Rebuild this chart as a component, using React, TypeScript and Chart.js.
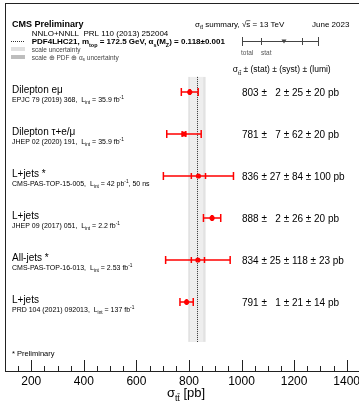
import React, { useEffect, useRef } from "react";
import { Chart, registerables } from "chart.js";

Chart.register(...registerables);

const FONT = "'Liberation Sans', Arial, Helvetica, sans-serif";

// ---------- data ----------
const measurementNames = [
  "Dilepton eμ",
  "Dilepton τ+e/μ",
  "L+jets *",
  "L+jets",
  "All-jets *",
  "L+jets",
];
const measurementRefs = [
  "EPJC 79 (2019) 368,  L_{int} = 35.9 fb^{-1}",
  "JHEP 02 (2020) 191,  L_{int} = 35.9 fb^{-1}",
  "CMS-PAS-TOP-15-005,  L_{int} = 42 pb^{-1}, 50 ns",
  "JHEP 09 (2017) 051,  L_{int} = 2.2 fb^{-1}",
  "CMS-PAS-TOP-16-013,  L_{int} = 2.53 fb^{-1}",
  "PRD 104 (2021) 092013,  L_{int} = 137 fb^{-1}",
];
const rowIndex = [0, 1, 2, 3, 4, 5];
const xsec = [803, 781, 836, 888, 834, 791];
const statErr = [2, 7, 27, 2, 25, 1];
const systErr = [25, 62, 84, 26, 118, 21];
const lumiErr = [20, 20, 100, 20, 23, 14];

const theoryValue = 833.9;
const theoryScaleUp = 20.5;
const theoryScaleDown = 30.0;
const theoryPdfAlphaS = 21.0;
const bandRows = [-0.36, 5.95];

const xTickValues = [200, 400, 600, 800, 1000, 1200, 1400];
const xMinorStep = 50;
const xRange = [100, 1447];
const yRange = [-2.12, 6.667];

// ---------- rich text helpers ----------
type Seg = { t: string; m: number; bar: boolean };
function parseRich(src: string): Seg[] {
  const out: Seg[] = [];
  const walk = (s: string, m: number) => {
    let buf = "";
    const flush = () => {
      if (buf) {
        out.push({ t: buf, m, bar: false });
        buf = "";
      }
    };
    for (let i = 0; i < s.length; i++) {
      const c = s[i];
      if ((c === "_" || c === "^") && s[i + 1] === "{") {
        flush();
        const end = s.indexOf("}", i);
        walk(s.slice(i + 2, end), c === "_" ? 1 : 2);
        i = end;
      } else if (c === "!" && i + 1 < s.length) {
        flush();
        out.push({ t: s[i + 1], m, bar: true });
        i++;
      } else buf += c;
    }
    flush();
  };
  walk(src, 0);
  return out;
}

function drawRich(
  ctx: CanvasRenderingContext2D,
  src: string,
  x: number,
  y: number,
  size: number,
  o: { bold?: boolean; color?: string; align?: string } = {}
) {
  const segs = parseRich(src);
  const w = o.bold ? "bold " : "";
  const fs = (m: number) => (m === 0 ? size : size * 0.68);
  const widths = segs.map((sg) => {
    ctx.font = `${w}${fs(sg.m)}px ${FONT}`;
    return ctx.measureText(sg.t).width;
  });
  const total = widths.reduce((a, b) => a + b, 0);
  let cx = o.align === "center" ? x - total / 2 : x;
  const base = y + size * 0.36;
  ctx.fillStyle = o.color || "#000";
  ctx.textBaseline = "alphabetic";
  ctx.textAlign = "left";
  segs.forEach((sg, k) => {
    const f = fs(sg.m);
    const dy = sg.m === 1 ? size * 0.3 : sg.m === 2 ? -size * 0.42 : 0;
    ctx.font = `${w}${f}px ${FONT}`;
    ctx.fillText(sg.t, cx, base + dy);
    if (sg.bar) {
      const ly = base + dy - f * 0.8;
      ctx.fillRect(cx, ly, widths[k], Math.max(0.6, f * 0.07));
    }
    cx += widths[k];
  });
}

const pad2 = (n: number) => (n < 10 ? "  " + n : String(n));

const overlayPlugin = {
  id: "overlay",
  beforeDatasetsDraw(chart: any) {
    const { ctx, scales } = chart;
    const xs = scales.x;
    const ys = scales.y;
    ctx.save();
    // theory band
    const yTop = ys.getPixelForValue(bandRows[0]);
    const yBot = ys.getPixelForValue(bandRows[1]);
    const totLo = theoryValue - Math.hypot(theoryScaleDown, theoryPdfAlphaS);
    const totHi = theoryValue + Math.hypot(theoryScaleUp, theoryPdfAlphaS);
    const x0 = xs.getPixelForValue(totLo);
    const x1 = xs.getPixelForValue(totHi);
    ctx.fillStyle = "#e2e2e2";
    ctx.fillRect(x0, yTop, x1 - x0, yBot - yTop);
    const s0 = xs.getPixelForValue(theoryValue - theoryScaleDown);
    const s1 = xs.getPixelForValue(theoryValue + theoryScaleUp);
    ctx.fillStyle = "#eeeeee";
    ctx.fillRect(s0, yTop, s1 - s0, yBot - yTop);
    // central value (dotted)
    const xc = Math.round(xs.getPixelForValue(theoryValue)) - 0.5;
    ctx.strokeStyle = "#333";
    ctx.lineWidth = 1;
    ctx.setLineDash([1, 1]);
    ctx.beginPath();
    ctx.moveTo(xc, yTop);
    ctx.lineTo(xc, yBot);
    ctx.stroke();
    ctx.setLineDash([]);
    // error bars
    ctx.strokeStyle = "#ff0000";
    ctx.lineWidth = 1.5;
    xsec.forEach((v, i) => {
      const total = Math.sqrt(statErr[i] ** 2 + systErr[i] ** 2 + lumiErr[i] ** 2);
      const yp = ys.getPixelForValue(rowIndex[i]);
      const xl = xs.getPixelForValue(v - total);
      const xr = xs.getPixelForValue(v + total);
      ctx.beginPath();
      ctx.moveTo(xl, yp);
      ctx.lineTo(xr, yp);
      ctx.moveTo(xl, yp - 4);
      ctx.lineTo(xl, yp + 4);
      ctx.moveTo(xr, yp - 4);
      ctx.lineTo(xr, yp + 4);
      const sl = xs.getPixelForValue(v - statErr[i]);
      const sr = xs.getPixelForValue(v + statErr[i]);
      ctx.moveTo(sl, yp - 3);
      ctx.lineTo(sl, yp + 3);
      ctx.moveTo(sr, yp - 3);
      ctx.lineTo(sr, yp + 3);
      ctx.stroke();
    });
    ctx.restore();
  },
  afterDraw(chart: any) {
    const { ctx, chartArea: ca, scales } = chart;
    const xs = scales.x;
    const ys = scales.y;
    ctx.save();
    // frame
    ctx.strokeStyle = "#222";
    ctx.lineWidth = 1;
    ctx.beginPath();
    ctx.moveTo(ca.left, ca.top + 0.5);
    ctx.lineTo(ca.right, ca.top + 0.5);
    ctx.moveTo(ca.left + 0.5, ca.top);
    ctx.lineTo(ca.left + 0.5, ca.bottom);
    ctx.moveTo(ca.left, ca.bottom - 0.5);
    ctx.lineTo(ca.right, ca.bottom - 0.5);
    ctx.stroke();
    // inward ticks
    ctx.beginPath();
    for (let v = xRange[0] + xMinorStep; v <= xRange[1]; v += xMinorStep) {
      const len = xTickValues.includes(v) ? 12 : 6;
      const px = Math.round(xs.getPixelForValue(v)) + 0.5;
      ctx.moveTo(px, ca.bottom);
      ctx.lineTo(px, ca.bottom - len);
    }
    ctx.stroke();

    // header
    drawRich(ctx, "CMS Preliminary", 12, 24, 9, { bold: true });
    drawRich(ctx, "σ_{t!t} summary, √!s = 13 TeV", 195, 24, 8);
    drawRich(ctx, "June 2023", 312, 24, 8);

    // legend left
    ctx.strokeStyle = "#333";
    ctx.setLineDash([1, 1]);
    ctx.beginPath();
    ctx.moveTo(11, 41.5);
    ctx.lineTo(25, 41.5);
    ctx.stroke();
    ctx.setLineDash([]);
    drawRich(ctx, "NNLO+NNLL  PRL 110 (2013) 252004", 31.7, 33.5, 8);
    drawRich(ctx, "PDF4LHC21, m_{top} = 172.5 GeV, α_{s}(M_{Z}) = 0.118±0.001", 31.7, 41.5, 8, { bold: true });
    ctx.fillStyle = "#e0e0e0";
    ctx.fillRect(11, 47, 14, 4);
    drawRich(ctx, "scale uncertainty", 31.7, 49.5, 6.5, { color: "#444" });
    ctx.fillStyle = "#bdbdbd";
    ctx.fillRect(11, 55, 14, 4);
    drawRich(ctx, "scale ⊕ PDF ⊕ α_{s} uncertainty", 31.7, 57.2, 6.5, { color: "#444" });

    // legend right (total / stat)
    ctx.strokeStyle = "#444";
    ctx.lineWidth = 1;
    ctx.beginPath();
    ctx.moveTo(242, 41.5);
    ctx.lineTo(319, 41.5);
    ctx.moveTo(242.5, 37);
    ctx.lineTo(242.5, 46);
    ctx.moveTo(318.5, 37);
    ctx.lineTo(318.5, 46);
    ctx.moveTo(261.5, 38);
    ctx.lineTo(261.5, 45);
    ctx.moveTo(302.5, 38);
    ctx.lineTo(302.5, 45);
    ctx.stroke();
    ctx.fillStyle = "#444";
    ctx.beginPath();
    ctx.moveTo(281.5, 39.5);
    ctx.lineTo(286.5, 39.5);
    ctx.lineTo(284, 43.5);
    ctx.closePath();
    ctx.fill();
    drawRich(ctx, "total", 241, 52.5, 6.5, { color: "#555" });
    drawRich(ctx, "stat", 261, 52.5, 6.5, { color: "#555" });
    drawRich(ctx, "σ_{t!t} ± (stat) ± (syst) ± (lumi)", 232.7, 69, 8.5);

    // rows
    xsec.forEach((v, i) => {
      const yp = ys.getPixelForValue(rowIndex[i]);
      drawRich(ctx, measurementNames[i], 12, yp - 2.5, 10);
      drawRich(ctx, measurementRefs[i], 12, yp + 7.5, 7);
      drawRich(ctx, `${v} ± ${pad2(statErr[i])} ± ${systErr[i]} ± ${lumiErr[i]} pb`, 242, yp, 10);
    });

    drawRich(ctx, "* Preliminary", 12, 353, 7.5);

    // axis title
    drawRich(ctx, "σ_{t!t} [pb]", 186, 392, 13, { align: "center" });
    ctx.restore();
  },
};

export default function App() {
  const ref = useRef<HTMLCanvasElement>(null);
  useEffect(() => {
    document.body.style.margin = "0";
    const canvas = ref.current;
    if (!canvas) return;
    const chart = new Chart(canvas, {
      type: "scatter",
      data: {
        datasets: [
          {
            data: xsec.map((v, i) => ({ x: v, y: rowIndex[i] })),
            pointRadius: 2.6,
            pointBackgroundColor: "#ff0000",
            pointBorderWidth: 0,
            pointHoverRadius: 2.6,
            clip: false,
          },
        ],
      },
      options: {
        responsive: false,
        animation: false,
        devicePixelRatio: 1,
        events: [],
        layout: { autoPadding: false, padding: { left: 5, top: 3, right: 0, bottom: 18.6 } },
        plugins: { legend: { display: false }, tooltip: { enabled: false } },
        scales: {
          x: {
            type: "linear",
            min: xRange[0],
            max: xRange[1],
            afterBuildTicks: (s: any) => {
              s.ticks = xTickValues.map((v) => ({ value: v }));
            },
            afterFit: (s: any) => {
              s.paddingLeft = 0;
              s.paddingRight = 0;
            },
            grid: { display: false, drawTicks: false },
            border: { display: false },
            ticks: {
              font: { family: FONT, size: 12 },
              color: "#000",
              padding: 2,
              maxRotation: 0,
              autoSkip: false,
              callback: (v: any) => String(v),
            },
          },
          y: {
            type: "linear",
            min: yRange[0],
            max: yRange[1],
            reverse: true,
            display: false,
          },
        },
      },
      plugins: [overlayPlugin],
    });
    return () => chart.destroy();
  }, []);
  return (
    <div style={{ position: "fixed", left: 0, top: 0, width: 359, height: 409, overflow: "hidden", background: "#fff" }}>
      <canvas ref={ref} width={359} height={409} style={{ display: "block" }} />
    </div>
  );
}
